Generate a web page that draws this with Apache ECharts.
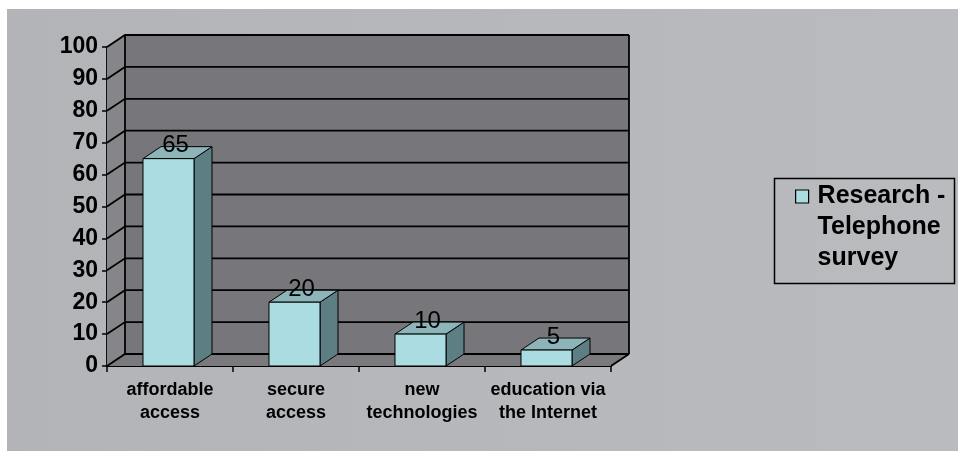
<!DOCTYPE html>
<html>
<head>
<meta charset="utf-8">
<script src="https://cdn.jsdelivr.net/npm/echarts@6/dist/echarts.min.js"></script>
<style>
html,body{margin:0;padding:0;background:#ffffff;}
#chart{width:958px;height:451px;}
</style>
</head>
<body>
<div id="chart"></div>
<script>
// ---- data ----
const categories = ['affordable\naccess', 'secure\naccess', 'new\ntechnologies', 'education via\nthe Internet'];
const values = [65, 20, 10, 5];
const yTicks = [0, 10, 20, 30, 40, 50, 60, 70, 80, 90, 100];
const seriesName = 'Research -\nTelephone\nsurvey';

// ---- style constants ----
const DX = 18, DY = -12;          // 3D depth offset
const BAR_RATIO = 0.405;
const FONT = '"Liberation Sans", Arial, sans-serif';

const chart = echarts.init(document.getElementById('chart'), null, {renderer: 'canvas'});

function renderWalls(params, api) {
  const n = categories.length;
  const band = api.size([1, 0])[0];
  const x0 = api.coord([0, 0])[0] - band / 2;
  const x1 = api.coord([n - 1, 0])[0] + band / 2;
  const yb = api.coord([0, yTicks[0]])[1];
  const yt = api.coord([0, yTicks[yTicks.length - 1]])[1];
  const line = {stroke: '#000', lineWidth: 1.8, fill: null};
  const children = [];
  children.push({type: 'polygon', shape: {points: [[x0, yb], [x1, yb], [x1 + DX, yb + DY], [x0 + DX, yb + DY]]},
    style: {fill: '#7a7a7e'}});
  children.push({type: 'polygon', shape: {points: [[x0, yb], [x0, yt], [x0 + DX, yt + DY], [x0 + DX, yb + DY]]},
    style: {fill: '#86868a'}});
  children.push({type: 'rect', shape: {x: x0 + DX, y: yt + DY, width: x1 - x0, height: yb - yt},
    style: {fill: '#77777b'}});
  yTicks.forEach(function (v) {
    const y = api.coord([0, v])[1];
    children.push({type: 'polyline', shape: {points: [[x0, y], [x0 + DX, y + DY], [x1 + DX, y + DY]]}, style: line});
  });
  children.push({type: 'line', shape: {x1: x0 + DX, y1: yt + DY, x2: x0 + DX, y2: yb + DY}, style: line});
  children.push({type: 'line', shape: {x1: x1 + DX, y1: yt + DY, x2: x1 + DX, y2: yb + DY}, style: line});
  children.push({type: 'line', shape: {x1: x1, y1: yb, x2: x1 + DX, y2: yb + DY}, style: line});
  return {type: 'group', children: children};
}

function renderBar(params, api) {
  const idx = api.value(0);
  const v = api.value(1);
  const top = api.coord([idx, v]);
  const base = api.coord([idx, 0]);
  const w = api.size([1, 0])[0] * BAR_RATIO;
  const cx = top[0] - 1.5;
  const xl = cx - w / 2, xr = cx + w / 2, yt = top[1], yb = base[1];
  const edge = {stroke: '#000', lineWidth: 1};
  return {
    type: 'group',
    children: [
      {type: 'polygon', shape: {points: [[xr, yt], [xr, yb], [xr + DX, yb + DY], [xr + DX, yt + DY]]},
        style: Object.assign({fill: '#5d7f83'}, edge)},
      {type: 'polygon', shape: {points: [[xl, yt], [xr, yt], [xr + DX, yt + DY], [xl + DX, yt + DY]]},
        style: Object.assign({fill: '#8db5b9'}, edge)},
      {type: 'rect', shape: {x: xl, y: yt, width: w, height: yb - yt},
        style: Object.assign({fill: '#aadce1'}, edge)},
      {type: 'text', x: cx + 7, y: yt + DY - 1,
        style: {text: String(v), fill: '#000', font: '24px ' + FONT, align: 'center', verticalAlign: 'middle'}}
    ]
  };
}

const option = {
  backgroundColor: '#ffffff',
  animation: false,
  graphic: [
    {type: 'rect', z: -100, silent: true, shape: {x: 7, y: 9, width: 951, height: 442},
      style: {fill: new echarts.graphic.LinearGradient(0, 0, 1, 0, [
        {offset: 0, color: '#b2b4b8'}, {offset: 1, color: '#babbbf'}])}},
    {type: 'rect', z: 10, silent: true, shape: {x: 774.5, y: 178.5, width: 180, height: 105},
      style: {fill: null, stroke: '#000', lineWidth: 1.5}}
  ],
  grid: {left: 107, right: 347, top: 47, bottom: 85},
  xAxis: {
    type: 'category',
    data: categories,
    boundaryGap: true,
    axisLine: {show: true, lineStyle: {color: '#000', width: 1.8}},
    axisTick: {show: true, length: 6, lineStyle: {color: '#000', width: 1.5}},
    axisLabel: {color: '#000', fontFamily: FONT, fontWeight: 'bold', fontSize: 18, lineHeight: 23, margin: 13,
      interval: 0}
  },
  yAxis: {
    type: 'value',
    min: 0, max: 100, interval: 10,
    axisLine: {show: true, lineStyle: {color: '#000', width: 1.8}},
    axisTick: {show: true, length: 5, lineStyle: {color: '#000', width: 1.5}},
    axisLabel: {color: '#000', fontFamily: FONT, fontWeight: 'bold', fontSize: 23, margin: 9},
    splitLine: {show: false}
  },
  legend: {
    data: [seriesName],
    left: 795, top: 181,
    padding: 0,
    icon: 'path://M0,0L13,0L13,13L0,13Z M17,75',
    itemWidth: 17, itemHeight: 75,
    itemStyle: {borderColor: '#000', borderWidth: 1.2},
    textStyle: {color: '#000', fontFamily: FONT, fontWeight: 'bold', fontSize: 25, lineHeight: 31}
  },
  series: [
    {type: 'custom', name: 'walls', renderItem: renderWalls, data: [[0, 0]], z: 1, silent: true},
    {type: 'custom', name: seriesName, renderItem: renderBar,
      itemStyle: {color: '#aadce1'},
      data: values.map(function (v, i) { return [i, v]; }), z: 3}
  ]
};
chart.setOption(option);
</script>
</body>
</html>
